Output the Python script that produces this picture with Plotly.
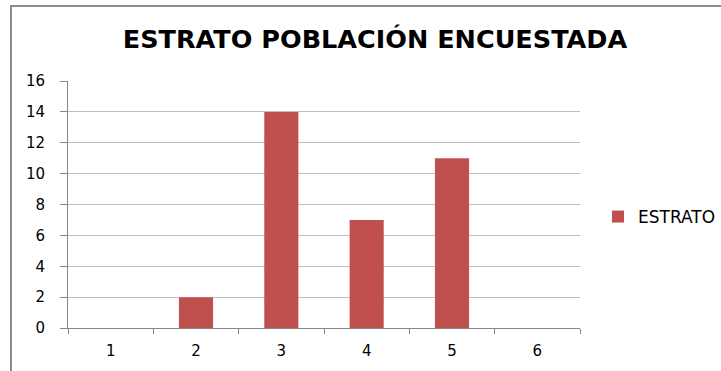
import plotly.graph_objects as go

# Survey population by socio-economic stratum
estratos = ["1", "2", "3", "4", "5", "6"]
conteos = [0, 2, 14, 7, 11, 0]
y_ticks = [0, 2, 4, 6, 8, 10, 12, 14, 16]

W, H = 721, 371
L, R, T, B = 68, 580, 81, 328  # plot area in pixels

def px_x(x):
    return (x - L) / (R - L)

def px_y(y):
    return (B - y) / (B - T)

fig = go.Figure()
fig.add_trace(go.Bar(
    x=estratos,
    y=conteos,
    name="ESTRATO",
    marker=dict(color="#C0504D", line=dict(width=0)),
    showlegend=True,
))

font_main = "DejaVu Sans, sans-serif"

fig.update_layout(
    width=W,
    height=H,
    margin=dict(l=L, r=W - R, t=T, b=H - B, pad=0, autoexpand=False),
    paper_bgcolor="white",
    plot_bgcolor="white",
    bargap=0.6,
    font=dict(family=font_main, size=15, color="#000000"),
    title=dict(
        text="<b>ESTRATO POBLACIÓN ENCUESTADA</b>",
        x=375 / W,
        xanchor="center",
        y=1 - 39 / H,
        yanchor="middle",
        xref="container",
        yref="container",
        font=dict(family=font_main, size=25.5, color="#000000"),
    ),
    legend=dict(
        x=px_x(598),
        xanchor="left",
        y=px_y(217),
        yanchor="middle",
        font=dict(family=font_main, size=17, color="#000000"),
        bgcolor="rgba(0,0,0,0)",
        itemwidth=30,
    ),
    xaxis=dict(
        type="category",
        showgrid=False,
        showline=True,
        linecolor="#868686",
        linewidth=1,
        ticks="outside",
        tickson="boundaries",
        ticklen=5,
        tickcolor="#868686",
        ticklabelstandoff=9,
        tickfont=dict(family=font_main, size=15, color="#000000"),
        fixedrange=True,
    ),
    yaxis=dict(
        range=[0, 16],
        tickvals=y_ticks,
        showgrid=True,
        gridcolor="#BEBEBE",
        gridwidth=1,
        showline=True,
        linecolor="#868686",
        linewidth=1,
        ticks="outside",
        ticklen=7,
        tickcolor="#868686",
        ticklabelstandoff=12,
        tickfont=dict(family=font_main, size=15, color="#000000"),
        zeroline=False,
    ),
    shapes=[
        dict(
            type="rect",
            xref="paper",
            yref="paper",
            x0=px_x(11),
            x1=px_x(W + 20),
            y0=px_y(H + 20),
            y1=px_y(6),
            line=dict(color="#8C8C8C", width=2),
            fillcolor="rgba(0,0,0,0)",
            layer="below",
        )
    ],
)

fig.write_html("out.html")
